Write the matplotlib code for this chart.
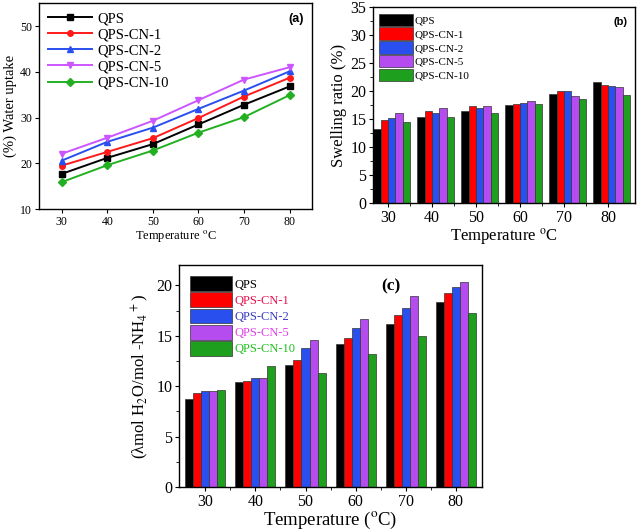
import numpy as np
import matplotlib
matplotlib.use('Agg')
import matplotlib.pyplot as plt
from matplotlib.ticker import AutoMinorLocator

plt.rcParams['font.family'] = ['Liberation Serif', 'DejaVu Serif']
plt.rcParams['mathtext.fontset'] = 'stix'
plt.rcParams['axes.linewidth'] = 1.0

temps = [30, 40, 50, 60, 70, 80]
names = ['QPS', 'QPS-CN-1', 'QPS-CN-2', 'QPS-CN-5', 'QPS-CN-10']
colors = ['black', '#ff0000', '#2a4fef', '#b44cf0', '#1ea01e']
line_colors = ['black', '#ff1a1a', '#2a4fef', '#cc55ff', '#22b022']
markers = ['s', 'o', '^', 'v', 'D']
text_colors = ['black', '#e8104e', '#3a3cc0', '#e040e8', '#20c020']

# (a) water uptake (%)
wu_qps = [17.7, 21.2, 24.2, 28.5, 32.8, 36.8]
wu_cn1 = [19.5, 22.5, 25.5, 29.9, 34.6, 38.7]
wu_cn2 = [20.6, 24.7, 27.8, 31.9, 35.9, 40.1]
wu_cn5 = [22.1, 25.6, 29.3, 33.8, 38.3, 41.0]
wu_cn10 = [15.9, 19.6, 22.8, 26.7, 30.1, 34.9]

# (b) swelling ratio (%)
sw_qps = [13.2, 15.4, 16.4, 17.5, 19.6, 21.7]
sw_cn1 = [14.9, 16.5, 17.3, 17.7, 20.0, 21.1]
sw_cn2 = [15.3, 16.2, 17.0, 17.9, 20.0, 21.0]
sw_cn5 = [16.2, 17.1, 17.4, 18.2, 19.2, 20.8]
sw_cn10 = [14.5, 15.4, 16.2, 17.8, 18.7, 19.3]

# (c) hydration number lambda
lam_qps = [8.75, 10.4, 12.05, 14.15, 16.2, 18.3]
lam_cn1 = [9.3, 10.5, 12.6, 14.8, 17.1, 19.2]
lam_cn2 = [9.5, 10.8, 13.75, 15.8, 17.8, 19.85]
lam_cn5 = [9.55, 10.85, 14.55, 16.7, 18.95, 20.35]
lam_cn10 = [9.65, 11.95, 11.3, 13.2, 14.95, 17.25]

wu = [wu_qps, wu_cn1, wu_cn2, wu_cn5, wu_cn10]
sw = [sw_qps, sw_cn1, sw_cn2, sw_cn5, sw_cn10]
lam = [lam_qps, lam_cn1, lam_cn2, lam_cn5, lam_cn10]

fig = plt.figure(figsize=(6.4, 5.32), dpi=100)
x = np.array(temps)

# ---- (a)
ax1 = fig.add_axes([0.061, 0.607, 0.427, 0.387])
for i in range(5):
    ax1.plot(x, wu[i], color=line_colors[i], marker=markers[i], ms=4, lw=1.4, label=names[i])
ax1.set_xlim(25, 85)
ax1.set_ylim(10, 55)
ax1.set_xticks(temps)
ax1.set_yticks([10, 20, 30, 40, 50])
ax1.tick_params(labelsize=8.5, length=3, width=0.8, pad=2)
ax1.set_ylabel('(%) Water uptake', fontsize=10.5, labelpad=2)
ax1.set_xlabel(r'Temperature $^{\rm o}$C', fontsize=9, labelpad=0)
ax1.legend(loc='upper left', fontsize=10.5, frameon=False, handlelength=3,
           labelspacing=0.2, borderaxespad=0.2, handletextpad=0.4)
ax1.text(0.97, 0.95, '(a)', transform=ax1.transAxes, ha='right', va='top',
         fontsize=9, fontweight='bold', family='Liberation Sans')

# ---- (b)
ax2 = fig.add_axes([0.583, 0.618, 0.409, 0.368])
w = 10 / 6
for i in range(5):
    ax2.bar(x + (i - 1.5) * w, sw[i], width=w, color=colors[i], edgecolor='#333333',
            lw=0.5, label=names[i])
ax2.set_xlim(26.6, 86.1)
ax2.set_ylim(0, 35)
ax2.set_xticks(temps)
ax2.set_yticks(range(0, 36, 5))
ax2.yaxis.set_minor_locator(AutoMinorLocator(2))
ax2.set_xticks([35, 45, 55, 65, 75], minor=True)
ax2.tick_params(labelsize=11.5, length=3, width=0.8, pad=2)
ax2.tick_params(which='minor', length=2, width=0.6)
ax2.set_ylabel('Swelling ratio (%)', fontsize=12, labelpad=2)
ax2.set_xlabel(r'Temperature $^{\rm o}$C', fontsize=12, labelpad=0)
ax2.legend(loc='upper left', fontsize=8, frameon=False, handlelength=3.0,
           handleheight=1.35, labelspacing=0.12, borderaxespad=0.15, handletextpad=0.2)
ax2.text(0.97, 0.95, '(b)', transform=ax2.transAxes, ha='right', va='top',
         fontsize=8, fontweight='bold', family='Liberation Sans')

# ---- (c)
ax3 = fig.add_axes([0.280, 0.0846, 0.473, 0.417])
w = 10 * 0.16
for i in range(5):
    ax3.bar(x + (i - 2) * w, lam[i], width=w, color=colors[i], edgecolor='#333333',
            lw=0.5, label=names[i])
ax3.set_xlim(24.8, 85.2)
ax3.set_ylim(0, 22)
ax3.set_xticks(temps)
ax3.set_yticks([0, 5, 10, 15, 20])
ax3.yaxis.set_minor_locator(AutoMinorLocator(2))
ax3.set_xticks([35, 45, 55, 65, 75], minor=True)
ax3.tick_params(labelsize=11.5, length=3, width=0.8, pad=2)
ax3.tick_params(which='minor', length=2, width=0.6)
ax3.set_ylabel('(λmol H$_2$O/mol -NH$_4$$^+$)', fontsize=12, labelpad=4)
ax3.set_xlabel(r'Temperature ($^{\rm o}$C)', fontsize=13.5, labelpad=0)
leg = ax3.legend(loc='upper left', fontsize=9, frameon=False, handlelength=3.3,
                 handleheight=1.45, labelspacing=0.1, borderaxespad=0.5, handletextpad=0.2)
for t, c in zip(leg.get_texts(), text_colors):
    t.set_color(c)
ax3.text(0.7, 0.94, '(c)', transform=ax3.transAxes, ha='center', va='top',
         fontsize=12.5, fontweight='bold')

fig.savefig('out.png', dpi=100)
